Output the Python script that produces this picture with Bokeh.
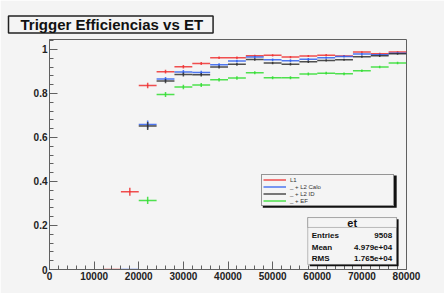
from bokeh.plotting import figure
from bokeh.models import Range1d, Label, Legend, LegendItem, BoxAnnotation, FixedTicker, Title
from bokeh.embed import file_html
from bokeh.resources import INLINE

# ---- data ----
title_text = "Trigger Efficiencias vs ET"
bin_half = 2000

l1_x = [14000, 18000, 22000, 26000, 30000, 34000, 38000, 42000, 46000, 50000, 54000, 58000, 62000, 66000, 70000, 74000, 78000]
l1_y = [0.0, 0.353, 0.836, 0.899, 0.921, 0.936, 0.962, 0.962, 0.971, 0.973, 0.965, 0.970, 0.974, 0.970, 0.988, 0.980, 0.988]
l1_e = [0.0, 0.018, 0.012, 0.009, 0.008, 0.007, 0.006, 0.006, 0.005, 0.005, 0.005, 0.005, 0.005, 0.005, 0.004, 0.005, 0.004]

calo_x = [18000, 22000, 26000, 30000, 34000, 38000, 42000, 46000, 50000, 54000, 58000, 62000, 66000, 70000, 74000, 78000]
calo_y = [0.0, 0.659, 0.865, 0.897, 0.895, 0.930, 0.947, 0.965, 0.953, 0.949, 0.955, 0.962, 0.968, 0.979, 0.976, 0.983]
calo_e = [0.0, 0.018, 0.010, 0.009, 0.008, 0.007, 0.006, 0.006, 0.006, 0.006, 0.006, 0.005, 0.005, 0.005, 0.005, 0.004]

id_x = [22000, 26000, 30000, 34000, 38000, 42000, 46000, 50000, 54000, 58000, 62000, 66000, 70000, 74000, 78000]
id_y = [0.652, 0.856, 0.886, 0.885, 0.920, 0.932, 0.954, 0.938, 0.933, 0.944, 0.950, 0.953, 0.967, 0.971, 0.980]
id_e = [0.018, 0.010, 0.009, 0.008, 0.007, 0.006, 0.006, 0.006, 0.006, 0.006, 0.005, 0.005, 0.005, 0.005, 0.004]

ef_x = [22000, 26000, 30000, 34000, 38000, 42000, 46000, 50000, 54000, 58000, 62000, 66000, 70000, 74000, 78000]
ef_y = [0.314, 0.795, 0.829, 0.838, 0.862, 0.870, 0.894, 0.871, 0.871, 0.888, 0.892, 0.889, 0.903, 0.920, 0.938]
ef_e = [0.016, 0.011, 0.010, 0.009, 0.008, 0.008, 0.007, 0.007, 0.007, 0.007, 0.006, 0.006, 0.006, 0.006, 0.006]

series_names = ["L1", "_ + L2 Calo", "_ + L2 ID", "_ + EF"]
series_colors = ["#ee3030", "#3060ee", "#303030", "#30dd30"]

y_ticks = [0, 0.2, 0.4, 0.6, 0.8, 1]
x_ticks = [0, 10000, 20000, 30000, 40000, 50000, 60000, 70000, 80000]

stats_title = "et"
stats_rows = [("Entries", "9508"), ("Mean", "4.979e+04"), ("RMS", "1.765e+04")]

# ---- figure ----
BG = "#f4f4f4"
FONT = "Liberation Sans"
p = figure(width=444, height=293, output_backend="svg", toolbar_location=None,
           x_range=Range1d(0, 80000), y_range=Range1d(0, 1.045),
           min_border_left=49, min_border_right=38, min_border_top=39, min_border_bottom=24)
p.background_fill_color = BG
p.border_fill_color = BG
p.outline_line_color = "#606060"
p.outline_line_width = 1
p.grid.visible = False

p.title = Title(text=title_text, align="left", text_font=FONT, text_font_style="bold",
                text_font_size="15px", text_color="#111111", offset=-41, standoff=13,
                background_fill_color=BG, border_line_color="#222222", border_line_width=1.5,
                padding=(12, 10, 0, 0))

for ax in (p.xaxis[0], p.yaxis[0]):
    ax.axis_line_color = "#606060"
    ax.major_tick_line_color = "#606060"
    ax.minor_tick_line_color = "#606060"
    ax.major_tick_in = 8
    ax.major_tick_out = 0
    ax.minor_tick_in = 4
    ax.minor_tick_out = 0
    ax.major_label_text_font = FONT
    ax.major_label_text_font_style = "bold"
    ax.major_label_text_font_size = "10px"
    ax.major_label_text_color = "#222222"
    ax.major_label_standoff = 2

p.xaxis[0].ticker = FixedTicker(ticks=x_ticks, minor_ticks=[i * 2000 for i in range(41)])
p.yaxis[0].ticker = FixedTicker(ticks=y_ticks, minor_ticks=[i * 0.04 for i in range(27)])
p.yaxis[0].major_label_overrides = {0: "0", 1: "1"}

all_series = [(l1_x, l1_y, l1_e), (calo_x, calo_y, calo_e), (id_x, id_y, id_e), (ef_x, ef_y, ef_e)]
items = []
for (xs, ys, es), name, col in zip(all_series, series_names, series_colors):
    h = p.segment(x0=[x - bin_half for x in xs], x1=[x + bin_half for x in xs], y0=ys, y1=ys,
                  line_color=col, line_width=1.5, line_alpha=0.85)
    v = p.segment(x0=xs, x1=xs, y0=[y - e for y, e in zip(ys, es)], y1=[y + e for y, e in zip(ys, es)],
                  line_color=col, line_width=1.5, line_alpha=0.85)
    items.append(LegendItem(label=name, renderers=[h]))

# legend shadow (data coords inside frame)
p.add_layout(BoxAnnotation(left=47800, right=77800, top=0.427, bottom=0.280,
                           fill_color="#111111", fill_alpha=1, line_alpha=0, level="overlay"))
legend = Legend(items=items, location=(212, 63), orientation="vertical",
                label_text_font=FONT, label_text_font_size="6px",
                label_text_color="#333333", glyph_width=23, glyph_height=7, label_height=7,
                label_width=102, label_standoff=4, spacing=0, padding=1, margin=0,
                border_line_color="#333333", border_line_width=1,
                background_fill_color=BG, background_fill_alpha=1)
p.add_layout(legend, "center")

# stats box
sx0, sx1 = 57870, 77780
sy_top, sy_head, sy_bot = 0.236, 0.191, 0.023
p.add_layout(BoxAnnotation(left=sx0 + 450, right=sx1 + 450, top=sy_top - 0.008, bottom=sy_bot - 0.008,
                           fill_color="#111111", fill_alpha=1, line_alpha=0, level="overlay"))
p.add_layout(BoxAnnotation(left=sx0, right=sx1, top=sy_top, bottom=sy_bot,
                           fill_color=BG, fill_alpha=1, line_color="#333333", line_width=1, level="overlay"))
p.add_layout(BoxAnnotation(left=sx0, right=sx1, top=sy_top, bottom=sy_head,
                           fill_color=BG, fill_alpha=1, line_color="#333333", line_width=1, level="overlay"))
p.add_layout(Label(x=(sx0 + sx1) / 2, y=(sy_top + sy_head) / 2, text=stats_title,
                   text_font=FONT, text_font_style="bold", text_font_size="11px",
                   text_align="center", text_baseline="middle", text_color="#111111",
                   level="overlay"))
row_y = [0.155, 0.100, 0.050]
for (k, vtxt), yy in zip(stats_rows, row_y):
    p.add_layout(Label(x=sx0 + 900, y=yy, text=k, text_font=FONT,
                       text_font_style="bold", text_font_size="8px", text_align="left",
                       text_baseline="middle", text_color="#111111", level="overlay"))
    p.add_layout(Label(x=sx1 - 1000, y=yy, text=vtxt, text_font=FONT,
                       text_font_style="bold", text_font_size="8px", text_align="right",
                       text_baseline="middle", text_color="#111111", level="overlay"))

html = file_html(p, INLINE)
open("out.html", "w").write(html)
